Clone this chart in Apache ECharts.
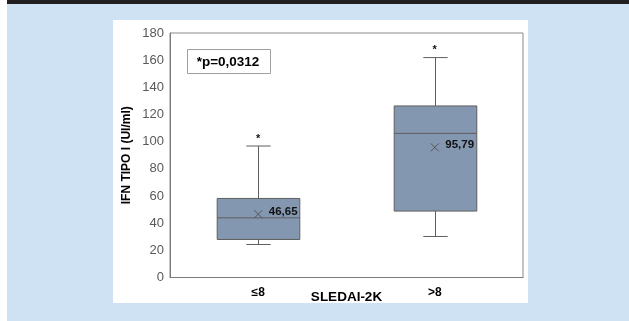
<!DOCTYPE html>
<html>
<head>
<meta charset="utf-8">
<script src="https://cdn.jsdelivr.net/npm/echarts@6/dist/echarts.min.js"></script>
<style>
  html, body { margin: 0; padding: 0; }
  body { width: 629px; height: 321px; overflow: hidden; background: #ffffff; }
  #chart { width: 629px; height: 321px; }
</style>
</head>
<body>
<div id="chart"></div>
<script>
// ---- data ----
const categories = ['≤8', '>8'];
const whiskerLow  = [24.3, 30.2];
const q1Values    = [28.0, 48.9];
const medians     = [43.9, 106.1];
const q3Values    = [58.2, 126.3];
const whiskerHigh = [96.8, 161.9];
const means       = [46.65, 95.79];
const meanLabels  = ['46,65', '95,79'];
const starValues  = [103.6, 168.8];
const yTicks      = [0, 20, 40, 60, 80, 100, 120, 140, 160, 180];
const pValueText  = '*p=0,0312';
const yTitle      = 'IFN TIPO I (UI/ml)';
const xTitle      = 'SLEDAI-2K';

const boxData = categories.map((c, i) => [i, whiskerLow[i], q1Values[i], medians[i], q3Values[i], whiskerHigh[i]]);
const meanData = categories.map((c, i) => [i, means[i], meanLabels[i]]);
const starData = categories.map((c, i) => [i, starValues[i]]);

const FONT = '"Liberation Sans", Arial, sans-serif';
const boxFill = '#8497b0';
const lineCol = '#5e5e5e';

const chart = echarts.init(document.getElementById('chart'), null, { renderer: 'canvas' });

const option = {
  animation: false,
  backgroundColor: '#ffffff',
  graphic: [
    { type: 'rect', z: -10, shape: { x: 7, y: 0, width: 622, height: 321 }, style: { fill: '#cfe2f3' } },
    { type: 'rect', z: -9, shape: { x: 7, y: 0, width: 622, height: 4 }, style: { fill: '#231f20' } },
    { type: 'rect', z: -8, shape: { x: 113, y: 20, width: 415, height: 283 }, style: { fill: '#ffffff' } },
    { type: 'rect', z: 10, shape: { x: 187.5, y: 49.5, width: 83, height: 24 }, style: { fill: '#ffffff', stroke: '#a0a0a0', lineWidth: 1 } },
    { type: 'text', z: 11, x: 228, y: 62, style: { text: pValueText, font: 'bold 13.5px ' + FONT, fill: '#000', align: 'center', verticalAlign: 'middle' } }
  ],
  grid: {
    left: 170, right: 106, top: 33, bottom: 43.5,
    show: true, borderColor: '#8a8a8a', borderWidth: 1, backgroundColor: 'transparent'
  },
  xAxis: {
    type: 'category',
    data: categories,
    axisLine: { show: true, lineStyle: { color: '#7a7a7a', width: 1 } },
    axisTick: { show: false },
    axisLabel: { margin: 9, color: '#000', fontFamily: FONT, fontWeight: 'bold', fontSize: 12 },
    name: xTitle,
    nameLocation: 'middle',
    nameGap: 13,
    nameMoveOverlap: false,
    nameTextStyle: { color: '#000', fontFamily: FONT, fontWeight: 'bold', fontSize: 13.5 }
  },
  yAxis: {
    type: 'value',
    min: yTicks[0], max: yTicks[yTicks.length - 1], interval: 20,
    splitLine: { show: false },
    axisLine: { show: true, lineStyle: { color: '#7a7a7a', width: 1 } },
    axisTick: { show: false },
    axisLabel: { margin: 6, color: '#595959', fontFamily: FONT, fontSize: 13 },
    name: yTitle,
    nameLocation: 'middle',
    nameGap: 37,
    nameMoveOverlap: false,
    nameTextStyle: { color: '#000', fontFamily: FONT, fontWeight: 'bold', fontSize: 12 }
  },
  series: [
    {
      type: 'custom',
      data: boxData,
      encode: { x: 0, y: [1, 2, 3, 4, 5] },
      z: 3,
      renderItem: function (params, api) {
        const i = api.value(0);
        const lo = api.coord([i, api.value(1)]);
        const q1 = api.coord([i, api.value(2)]);
        const md = api.coord([i, api.value(3)]);
        const q3 = api.coord([i, api.value(4)]);
        const hi = api.coord([i, api.value(5)]);
        const band = api.size([1, 0])[0];
        const bw = band * 0.468;
        const cw = band * 0.138;
        const cx = Math.round(lo[0]) + 0.5;
        const ls = { stroke: lineCol, lineWidth: 1 };
        return {
          type: 'group',
          children: [
            { type: 'line', shape: { x1: cx, y1: q3[1], x2: cx, y2: hi[1] }, style: ls },
            { type: 'line', shape: { x1: cx - cw / 2, y1: hi[1], x2: cx + cw / 2, y2: hi[1] }, style: ls },
            { type: 'line', shape: { x1: cx, y1: q1[1], x2: cx, y2: lo[1] }, style: ls },
            { type: 'line', shape: { x1: cx - cw / 2, y1: lo[1], x2: cx + cw / 2, y2: lo[1] }, style: ls },
            { type: 'rect', shape: { x: cx - bw / 2, y: q3[1], width: bw, height: q1[1] - q3[1] }, style: { fill: boxFill, stroke: lineCol, lineWidth: 1 } },
            { type: 'line', shape: { x1: cx - bw / 2, y1: md[1], x2: cx + bw / 2, y2: md[1] }, style: ls }
          ]
        };
      }
    },
    {
      type: 'custom',
      data: meanData,
      encode: { x: 0, y: 1 },
      z: 4,
      renderItem: function (params, api) {
        const i = api.value(0);
        const p = api.coord([i, api.value(1)]);
        const s = 4;
        const ls = { stroke: '#505050', lineWidth: 0.9 };
        return {
          type: 'group',
          children: [
            { type: 'line', shape: { x1: p[0] - s, y1: p[1] - s, x2: p[0] + s, y2: p[1] + s }, style: ls },
            { type: 'line', shape: { x1: p[0] - s, y1: p[1] + s, x2: p[0] + s, y2: p[1] - s }, style: ls },
            { type: 'text', x: p[0] + 10.5, y: p[1] - 2.5, style: { text: meanData[params.dataIndex][2], font: 'bold 11.5px ' + FONT, fill: '#111', align: 'left', verticalAlign: 'middle' } }
          ]
        };
      }
    },
    {
      type: 'custom',
      data: starData,
      encode: { x: 0, y: 1 },
      z: 4,
      renderItem: function (params, api) {
        const p = api.coord([api.value(0), api.value(1)]);
        return { type: 'text', x: p[0], y: p[1] + 2, style: { text: '*', font: 'bold 11px ' + FONT, fill: '#111', align: 'center', verticalAlign: 'middle' } };
      }
    }
  ]
};
chart.setOption(option);
</script>
</body>
</html>
